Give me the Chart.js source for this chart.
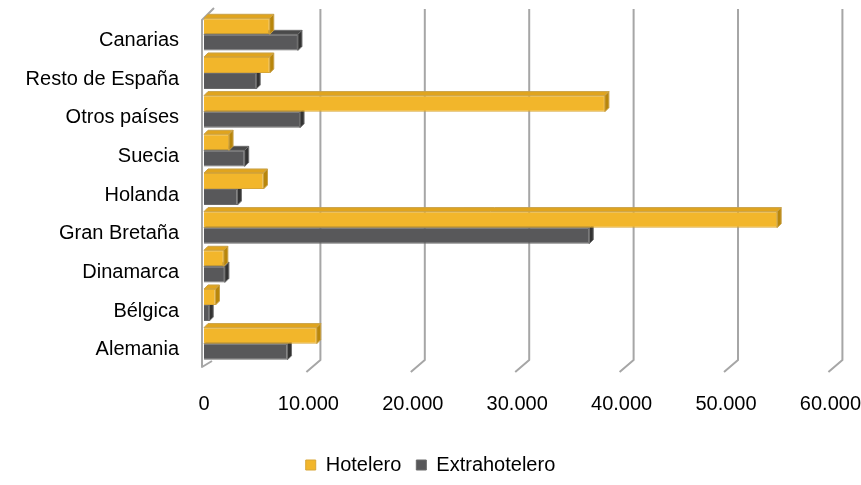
<!DOCTYPE html>
<html>
<head>
<meta charset="utf-8">
<script src="https://cdn.jsdelivr.net/npm/chart.js@4/dist/chart.umd.min.js"></script>
<style>
  html, body { margin: 0; padding: 0; background: #fff; }
  #wrap { width: 861px; height: 485px; }
</style>
</head>
<body>
<div id="wrap"><canvas id="grafico"></canvas></div>
<script>
// Datos
const categorias = ['Canarias', 'Resto de España', 'Otros países', 'Suecia', 'Holanda',
                    'Gran Bretaña', 'Dinamarca', 'Bélgica', 'Alemania'];
const hotelero      = [6300, 6300, 38400, 2400, 5700, 54900, 1900, 1100, 10800];
const extrahotelero = [9000, 5000, 9200, 3900, 3200, 36900, 2000, 500, 8000];
const ticksX = [0, 10000, 20000, 30000, 40000, 50000, 60000];

// Formato con punto de miles
function miles(v) {
    return String(v).replace(/\B(?=(\d{3})+(?!\d))/g, '.');
}

// Efecto 3D: cara superior y tapa derecha de cada barra
const barras3D = {
    id: 'barras3D',
    beforeDatasetDraw(chart, args) {
        const ctx = chart.ctx;
        const meta = args.meta;
        const colores = meta.index === 0
            ? { top: '#E0A41E', cap: '#B8860B', line: '#C9A24A' }
            : { top: '#4A4A4A', cap: '#333333', line: '#6E6E6E' };
        const d = 4;
        ctx.save();
        ctx.lineWidth = 1;
        meta.data.forEach(bar => {
            const p = bar.getProps(['x', 'y', 'base', 'height'], true);
            const top = p.y - p.height / 2;
            const bottom = p.y + p.height / 2;
            // cara superior
            ctx.beginPath();
            ctx.moveTo(p.base, top);
            ctx.lineTo(p.x, top);
            ctx.lineTo(p.x + d, top - d);
            ctx.lineTo(p.base + d, top - d);
            ctx.closePath();
            ctx.fillStyle = colores.top;
            ctx.fill();
            ctx.strokeStyle = colores.line;
            ctx.stroke();
            // tapa derecha
            ctx.beginPath();
            ctx.moveTo(p.x, top);
            ctx.lineTo(p.x + d, top - d);
            ctx.lineTo(p.x + d, bottom - d);
            ctx.lineTo(p.x, bottom);
            ctx.closePath();
            ctx.fillStyle = colores.cap;
            ctx.fill();
            ctx.strokeStyle = colores.line;
            ctx.stroke();
        });
        ctx.restore();
    }
};

// Líneas de cuadrícula con perspectiva (pared trasera y suelo)
const rejilla3D = {
    id: 'rejilla3D',
    beforeDatasetsDraw(chart) {
        const ctx = chart.ctx;
        const area = chart.chartArea;
        const xs = chart.scales.x;
        ctx.save();
        ctx.strokeStyle = '#A6A6A6';
        ctx.lineWidth = 2;
        ctx.lineJoin = 'round';
        xs.ticks.forEach(t => {
            const x = xs.getPixelForValue(t.value);
            ctx.beginPath();
            if (t.value === 0) {
                ctx.moveTo(x + 10, area.top - 7);
                ctx.lineTo(x - 2, area.top + 5);
                ctx.lineTo(x - 2, area.bottom + 4);
                ctx.lineTo(x + 8, area.bottom - 2);
            } else {
                ctx.moveTo(x + 12, area.top - 6);
                ctx.lineTo(x + 12, area.bottom - 3);
                ctx.lineTo(x - 2, area.bottom + 9);
            }
            ctx.stroke();
        });
        ctx.restore();
    }
};

const ctx = document.getElementById('grafico').getContext('2d');
new Chart(ctx, {
    type: 'bar',
    data: {
        labels: categorias,
        datasets: [
            {
                label: 'Hotelero',
                data: hotelero,
                backgroundColor: '#F2B62B',
                borderColor: '#D8A636',
                borderWidth: 1,
                categoryPercentage: 0.83,
                barPercentage: 1.0
            },
            {
                label: 'Extrahotelero',
                data: extrahotelero,
                backgroundColor: '#58585A',
                borderColor: '#6A6A6A',
                borderWidth: 1,
                categoryPercentage: 0.83,
                barPercentage: 1.0
            }
        ]
    },
    options: {
        indexAxis: 'y',
        responsive: true,
        maintainAspectRatio: false,
        animation: false,
        layout: {
            padding: { top: 15, right: 0, bottom: 0, left: 0 }
        },
        scales: {
            x: {
                min: 0,
                max: 60000,
                afterBuildTicks: scale => {
                    scale.ticks = ticksX.map(v => ({ value: v }));
                },
                afterFit: scale => { scale.height = 77; },
                grid: { display: false, drawTicks: true, tickLength: 29 },
                border: { display: false },
                ticks: {
                    padding: 0,
                    color: '#000',
                    maxRotation: 0,
                    font: { family: 'Liberation Sans, Arial', size: 20 },
                    callback: v => miles(v)
                }
            },
            y: {
                afterFit: scale => { scale.width = 204; },
                grid: { display: false, drawTicks: true, tickLength: 25 },
                border: { display: false },
                ticks: {
                    padding: 0,
                    labelOffset: 6,
                    color: '#000',
                    font: { family: 'Liberation Sans, Arial', size: 20 }
                }
            }
        },
        plugins: {
            legend: {
                position: 'bottom',
                labels: {
                    boxWidth: 10,
                    boxHeight: 10,
                    padding: 15,
                    color: '#000',
                    font: { family: 'Liberation Sans, Arial', size: 20 }
                }
            },
            tooltip: { enabled: false }
        }
    },
    plugins: [rejilla3D, barras3D]
});
</script>
</body>
</html>
